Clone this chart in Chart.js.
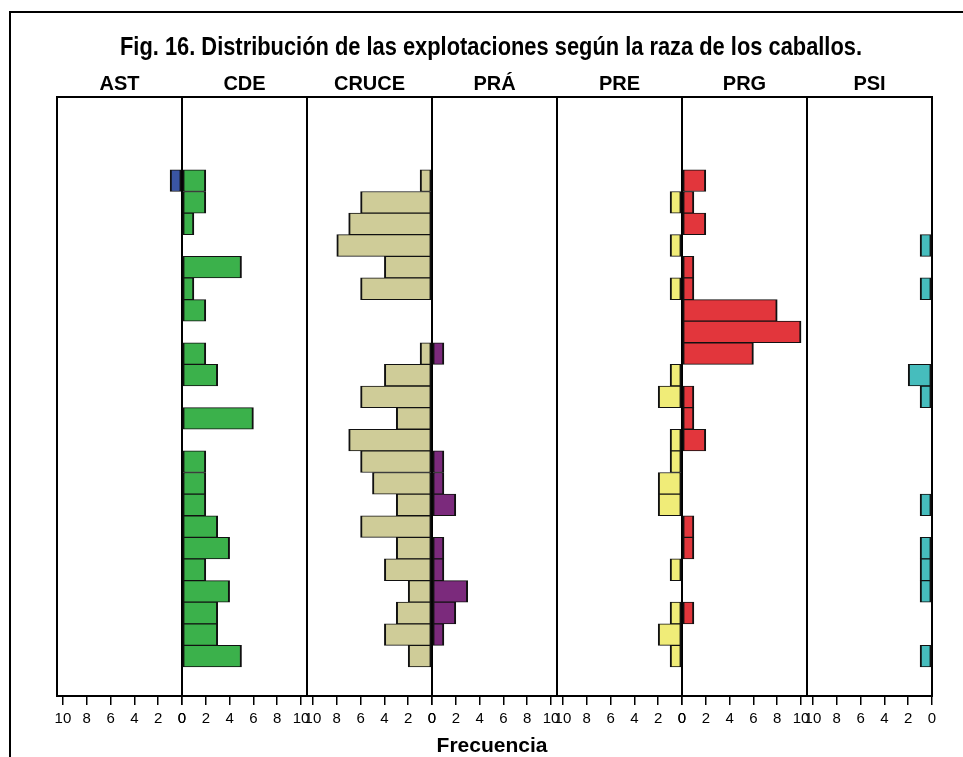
<!DOCTYPE html>
<html>
<head>
<meta charset="utf-8">
<script src="https://cdn.jsdelivr.net/npm/chart.js@4.4.1/dist/chart.umd.min.js"></script>
<style>
  html, body { margin: 0; padding: 0; background: #fff; overflow: hidden; }
  #wrap { position: relative; width: 963px; height: 757px; }
  #frame { position: absolute; left: 9px; top: 11px; width: 2000px; height: 2000px;
           border: 2px solid #000; box-sizing: border-box; }
  #c { position: absolute; left: 0; top: 0; }
</style>
</head>
<body>
<div id="wrap">
  <div id="frame"></div>
  <canvas id="c" width="963" height="757"></canvas>
</div>
<script>
// Farms by horse breed: one panel per breed, one row per group (top to bottom)
const breeds = ['AST', 'CDE', 'CRUCE', 'PRÁ', 'PRE', 'PRG', 'PSI'];
const rows = [1, 2, 3, 4, 5, 6, 7, 8, 9, 10, 11, 12, 13, 14, 15, 16, 17, 18, 19, 20, 21, 22, 23];

const AST   = [1, 0, 0, 0, 0, 0, 0, 0, 0, 0, 0, 0, 0, 0, 0, 0, 0, 0, 0, 0, 0, 0, 0];
const CDE   = [2, 2, 1, 0, 5, 1, 2, 0, 2, 3, 0, 6, 0, 2, 2, 2, 3, 4, 2, 4, 3, 3, 5];
const CRUCE = [1, 6, 7, 8, 4, 6, 0, 0, 1, 4, 6, 3, 7, 6, 5, 3, 6, 3, 4, 2, 3, 4, 2];
const PRA   = [0, 0, 0, 0, 0, 0, 0, 0, 1, 0, 0, 0, 0, 1, 1, 2, 0, 1, 1, 3, 2, 1, 0];
const PRE   = [0, 1, 0, 1, 0, 1, 0, 0, 0, 1, 2, 0, 1, 1, 2, 2, 0, 0, 1, 0, 1, 2, 1];
const PRG   = [2, 1, 2, 0, 1, 1, 8, 10, 6, 0, 1, 1, 2, 0, 0, 0, 1, 1, 0, 0, 1, 0, 0];
const PSI   = [0, 0, 0, 1, 0, 1, 0, 0, 0, 2, 1, 0, 0, 0, 0, 1, 0, 1, 1, 1, 0, 0, 1];

const seriesByBreed = [AST, CDE, CRUCE, PRA, PRE, PRG, PSI];
const colors = ['#3a55a4', '#3bb14b', '#cfcc98', '#7b2a7c', '#f0ec78', '#e2363c', '#46bdbd'];
// panels alternate: bars grow leftwards, then rightwards from a shared zero line
const leftward = [true, false, true, false, true, false, true];

const xTicks = [0, 2, 4, 6, 8, 10];
const xMax = 10.5;

const TITLE = 'Fig. 16. Distribución de las explotaciones según la raza de los caballos.';
const AXIS_TITLE = 'Frecuencia';

const TICK_FONT = { family: "'Liberation Sans', Arial, sans-serif", size: 15 };

const datasets = breeds.map((name, i) => ({
  label: name,
  xAxisID: 'x' + i,
  data: seriesByBreed[i]
    .map((v, k) => ({ x: v, y: rows[k] }))
    .filter(p => p.x > 0),
  backgroundColor: colors[i],
  borderColor: '#111',
  borderWidth: { top: 1, bottom: 1, left: 2, right: 2 },
  borderSkipped: false,
  grouped: false,
  barPercentage: 1,
  categoryPercentage: 1
}));

const scales = {
  y: {
    type: 'linear',
    reverse: true,
    offset: false,
    bounds: 'data',
    min: -2.87,
    max: 24.84,
    grid: { offset: false },
    ticks: { includeBounds: true },
    display: false
  }
};
breeds.forEach((name, i) => {
  scales['x' + i] = {
    type: 'linear',
    position: 'bottom',
    stack: 'panels',
    stackWeight: 1,
    reverse: leftward[i],
    min: 0,
    max: xMax,
    afterBuildTicks: s => { s.ticks = xTicks.map(v => ({ value: v })); },
    afterFit: s => { s.paddingLeft = 0; s.paddingRight = 0; },
    ticks: {
      color: '#000',
      font: TICK_FONT,
      padding: 5,
      maxRotation: 0,
      autoSkip: false,
      includeBounds: false
    },
    grid: {
      display: true,
      drawOnChartArea: false,
      drawTicks: true,
      tickLength: 9,
      color: '#000',
      lineWidth: 1.5
    },
    border: { display: false }
  };
});

// panel boxes behind the bars, text on top
const panelPlugin = {
  id: 'panels',
  beforeDatasetsDraw(chart) {
    const { ctx, chartArea } = chart;
    ctx.save();
    ctx.strokeStyle = '#000';
    ctx.lineWidth = 2;
    breeds.forEach((name, i) => {
      const s = chart.scales['x' + i];
      ctx.strokeRect(s.left, chartArea.top, s.right - s.left, chartArea.bottom - chartArea.top);
    });
    ctx.restore();
  },
  afterDraw(chart) {
    const { ctx } = chart;
    ctx.save();
    ctx.fillStyle = '#000';
    ctx.textAlign = 'center';
    ctx.textBaseline = 'alphabetic';

    // condensed bold heading
    ctx.font = "bold 26px 'Liberation Sans', Arial, sans-serif";
    const titleWidth = 742;
    const sx = titleWidth / ctx.measureText(TITLE).width;
    ctx.save();
    ctx.translate(491, 55);
    ctx.scale(sx, 1);
    ctx.fillText(TITLE, 0, 0);
    ctx.restore();

    ctx.font = "bold 20px 'Liberation Sans', Arial, sans-serif";
    breeds.forEach((name, i) => {
      const s = chart.scales['x' + i];
      ctx.fillText(name, (s.left + s.right) / 2, 90);
    });

    ctx.font = "bold 21px 'Liberation Sans', Arial, sans-serif";
    ctx.fillText(AXIS_TITLE, 492, 752);
    ctx.restore();
  }
};

new Chart(document.getElementById('c'), {
  type: 'bar',
  data: { datasets },
  options: {
    indexAxis: 'y',
    responsive: false,
    animation: false,
    devicePixelRatio: 1,
    layout: { padding: { left: 57, right: 31, top: 97, bottom: 24 } },
    plugins: {
      legend: { display: false },
      tooltip: { enabled: false }
    },
    scales
  },
  plugins: [panelPlugin]
});
</script>
</body>
</html>
